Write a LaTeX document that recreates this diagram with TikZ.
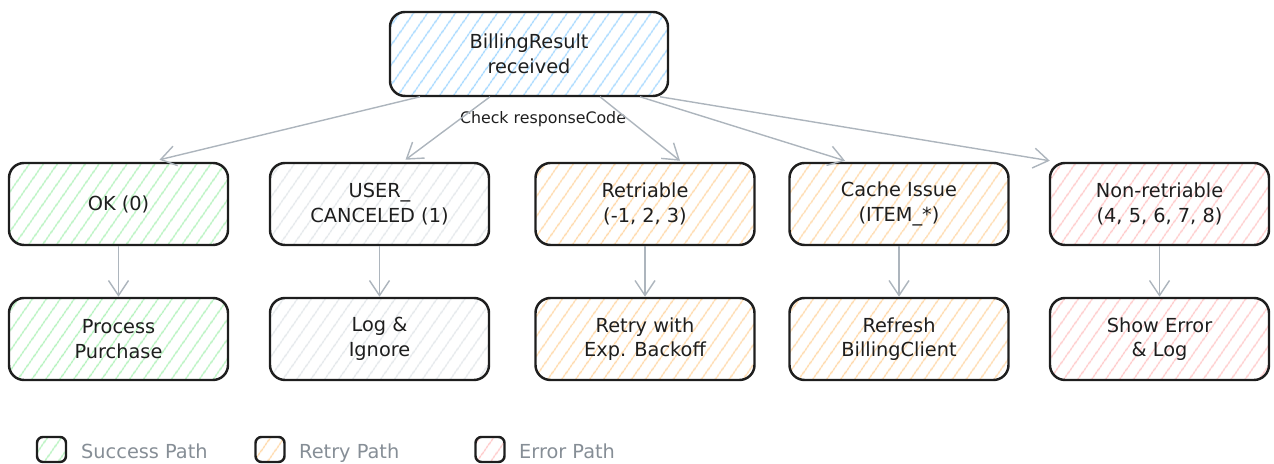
\documentclass[tikz,border=0pt]{standalone}
\usepackage{fontspec}
\setmainfont{DejaVu Sans}
\usetikzlibrary{arrows.meta,patterns.meta}
\definecolor{ink}{HTML}{1E1E1E}
\definecolor{edge}{HTML}{ADB5BD}
\definecolor{legendgray}{HTML}{868E96}
\definecolor{hblue}{HTML}{A5D8FF}
\definecolor{hgreen}{HTML}{B2F2BB}
\definecolor{hgray}{HTML}{E3E7EA}
\definecolor{horange}{HTML}{FFD8A8}
\definecolor{hred}{HTML}{FFC9C9}

\begin{document}
\begin{tikzpicture}[
  box/.style={draw=ink, line width=1.4pt, rounded corners=0.3cm, text=ink,
    minimum width=4.38cm, minimum height=1.64cm, align=center,
    font=\fontsize{11}{14}\selectfont},
  hatch/.style={pattern={Lines[angle=55,distance=6.5pt,line width=0.9pt]}, pattern color=#1},
  legbox/.style={draw=ink, line width=1.4pt, rounded corners=0.12cm,
    minimum width=0.58cm, minimum height=0.5cm, inner sep=0pt},
  legtext/.style={anchor=base west, text=legendgray, font=\fontsize{11}{13}\selectfont},
  flow/.style={draw=edge, line width=0.8pt, -{Straight Barb[length=3mm,width=4mm]}}
]
\useasboundingbox (0,0) rectangle (25.48,9.28);

\node[box,hatch=hblue,minimum width=5.56cm,minimum height=1.68cm] (R) at (10.58,8.20) {BillingResult\\received};

\node[box,hatch=hgreen]  (OK) at (2.37,5.20)  {OK (0)};
\node[box,hatch=hgray]   (UC) at (7.59,5.20)  {USER\_\\CANCELED (1)};
\node[box,hatch=horange] (RT) at (12.90,5.20) {Retriable\\(-1, 2, 3)};
\node[box,hatch=horange] (CI) at (17.98,5.20) {Cache Issue\\(ITEM\_*)};
\node[box,hatch=hred]    (NR) at (23.19,5.20) {Non-retriable\\(4, 5, 6, 7, 8)};

\node[box,hatch=hgreen]  (PP) at (2.37,2.50)  {Process\\Purchase};
\node[box,hatch=hgray]   (LI) at (7.59,2.50)  {Log \&\\Ignore};
\node[box,hatch=horange] (RB) at (12.90,2.50) {Retry with\\Exp. Backoff};
\node[box,hatch=horange] (RF) at (17.98,2.50) {Refresh\\BillingClient};
\node[box,hatch=hred]    (SE) at (23.19,2.50) {Show Error\\\& Log};

\node[text=ink,font=\fontsize{9}{11}\selectfont] (chk) at (10.86,6.90) {Check responseCode};

\draw[flow] ([xshift=-2.18cm]R.south) -- ([xshift=0.82cm,yshift=0.04cm]OK.north);
\draw[flow] ([xshift=-0.78cm]R.south) -- ([xshift=0.52cm,yshift=0.04cm]UC.north);
\draw[flow] ([xshift=1.42cm]R.south)  -- ([xshift=0.70cm,yshift=0.02cm]RT.north);
\draw[flow] ([xshift=2.22cm]R.south)  -- ([xshift=-1.08cm,yshift=0.02cm]CI.north);
\draw[flow] ([xshift=2.62cm]R.south)  -- ([xshift=0.02cm,yshift=0.02cm]NR.north west);

\draw[flow] (OK) -- (PP);
\draw[flow] (UC) -- (LI);
\draw[flow] (RT) -- (RB);
\draw[flow] (CI) -- (RF);
\draw[flow] (NR) -- (SE);

\node[legbox,hatch=hgreen]  (Ls) at (1.03,0.29) {};
\node[legtext] (Lst) at (1.50,0.10) {Success Path};
\node[legbox,hatch=horange] (Lr) at (5.40,0.29) {};
\node[legtext] (Lrt) at (5.86,0.10) {Retry Path};
\node[legbox,hatch=hred]    (Le) at (9.80,0.29) {};
\node[legtext] (Let) at (10.26,0.10) {Error Path};
\end{tikzpicture}
\end{document}
